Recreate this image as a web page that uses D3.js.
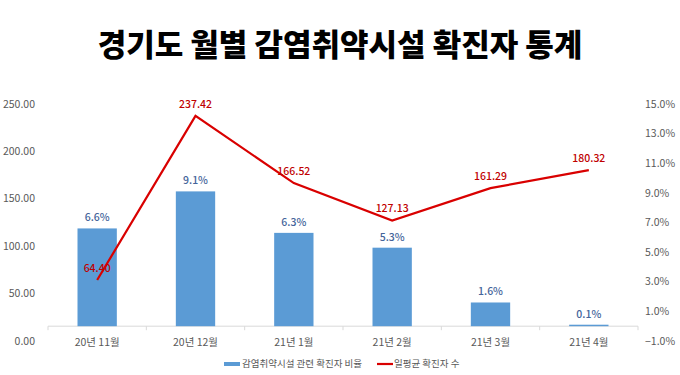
<!DOCTYPE html>
<html>
<head>
<meta charset="utf-8">
<script src="https://cdn.jsdelivr.net/npm/d3@7"></script>
<style>
  body { margin: 0; background: #fff; }
  text { font-family: "Noto Sans CJK KR", "Noto Sans", sans-serif; }
</style>
</head>
<body>
<div id="chart"></div>
<script>
const months = ["20년 11월", "20년 12월", "21년 1월", "21년 2월", "21년 3월", "21년 4월"];
const ratio = [6.6, 9.1, 6.3, 5.3, 1.6, 0.1];          // 감염취약시설 관련 확진자 비율 (%)
const daily = [64.40, 237.42, 166.52, 127.13, 161.29, 180.32]; // 일평균 확진자 수
const leftTicks = [0, 50, 100, 150, 200, 250];
const rightTicks = [-1, 1, 3, 5, 7, 9, 11, 13, 15];

const width = 680, height = 375;
const margin = { top: 104, right: 42, bottom: 34, left: 48 };

const svg = d3.select("#chart").append("svg")
    .attr("width", width)
    .attr("height", height);

svg.append("text")
    .attr("x", width / 2)
    .attr("y", 56)
    .attr("text-anchor", "middle")
    .attr("font-size", 31)
    .attr("font-weight", 900)
    .attr("fill", "#000")
    .text("경기도 월별 감염취약시설 확진자 통계");

const x = d3.scaleBand()
    .domain(months)
    .range([margin.left, width - margin.right])
    .paddingInner(0.6)
    .paddingOuter(0.3);

const yL = d3.scaleLinear().domain([0, 250]).range([height - margin.bottom, margin.top]);
const yR = d3.scaleLinear().domain([-1, 15]).range([height - margin.bottom, margin.top]);

// left axis labels
svg.append("g")
    .selectAll("text")
    .data(leftTicks)
    .join("text")
    .attr("x", 35)
    .attr("y", d => yL(d))
    .attr("dy", "0.35em")
    .attr("text-anchor", "end")
    .attr("font-size", 10.5)
    .attr("fill", "#595959")
    .text(d => d3.format(".2f")(d));

// right axis labels
svg.append("g")
    .selectAll("text")
    .data(rightTicks)
    .join("text")
    .attr("x", 645)
    .attr("y", d => yR(d))
    .attr("dy", "0.35em")
    .attr("text-anchor", "start")
    .attr("font-size", 10.5)
    .attr("fill", "#595959")
    .text(d => d3.format(".1f")(d) + "%");

// category axis at 0%
const base = yR(0);
const bounds = d3.range(months.length + 1).map(i => margin.left + i * (width - margin.left - margin.right) / months.length);
svg.append("line")
    .attr("x1", bounds[0]).attr("x2", bounds[bounds.length - 1])
    .attr("y1", base).attr("y2", base)
    .attr("stroke", "#d9d9d9");
svg.append("g")
    .selectAll("line")
    .data(bounds)
    .join("line")
    .attr("x1", d => d).attr("x2", d => d)
    .attr("y1", base).attr("y2", base + 4)
    .attr("stroke", "#d9d9d9");

svg.append("g")
    .selectAll("text")
    .data(months)
    .join("text")
    .attr("x", d => x(d) + x.bandwidth() / 2)
    .attr("y", base + 20)
    .attr("text-anchor", "middle")
    .attr("font-size", 10.5)
    .attr("fill", "#595959")
    .text(d => d);

// bars
svg.append("g")
    .selectAll("rect")
    .data(ratio)
    .join("rect")
    .attr("x", (d, i) => x(months[i]))
    .attr("y", d => yR(d))
    .attr("width", x.bandwidth())
    .attr("height", d => base - yR(d))
    .attr("fill", "#5b9bd5");

svg.append("g")
    .selectAll("text")
    .data(ratio)
    .join("text")
    .attr("x", (d, i) => x(months[i]) + x.bandwidth() / 2)
    .attr("y", d => yR(d) - 7)
    .attr("text-anchor", "middle")
    .attr("font-size", 10.5)
    .attr("font-weight", 500)
    .attr("fill", "#44649a")
    .text(d => d3.format(".1f")(d) + "%");

// line
const line = d3.line()
    .x((d, i) => x(months[i]) + x.bandwidth() / 2)
    .y(d => yL(d));

svg.append("path")
    .datum(daily)
    .attr("d", line)
    .attr("fill", "none")
    .attr("stroke", "#d90000")
    .attr("stroke-width", 2.2);

svg.append("g")
    .selectAll("text")
    .data(daily)
    .join("text")
    .attr("x", (d, i) => x(months[i]) + x.bandwidth() / 2)
    .attr("y", d => yL(d) - 8)
    .attr("text-anchor", "middle")
    .attr("font-size", 10.5)
    .attr("font-weight", 500)
    .attr("fill", "#c00000")
    .text(d => d3.format(".2f")(d));

// legend
const lg = svg.append("g").attr("transform", "translate(0,364)");
lg.append("rect").attr("x", 224).attr("y", -2).attr("width", 16).attr("height", 4).attr("fill", "#5b9bd5");
lg.append("text").attr("x", 242).attr("dy", "0.35em").attr("font-size", 9.5).attr("fill", "#595959")
    .text("감염취약시설 관련 확진자 비율");
lg.append("line").attr("x1", 377).attr("x2", 393).attr("stroke", "#d90000").attr("stroke-width", 2.2);
lg.append("text").attr("x", 394).attr("dy", "0.35em").attr("font-size", 9.5).attr("fill", "#595959")
    .text("일평균 확진자 수");
</script>
</body>
</html>
